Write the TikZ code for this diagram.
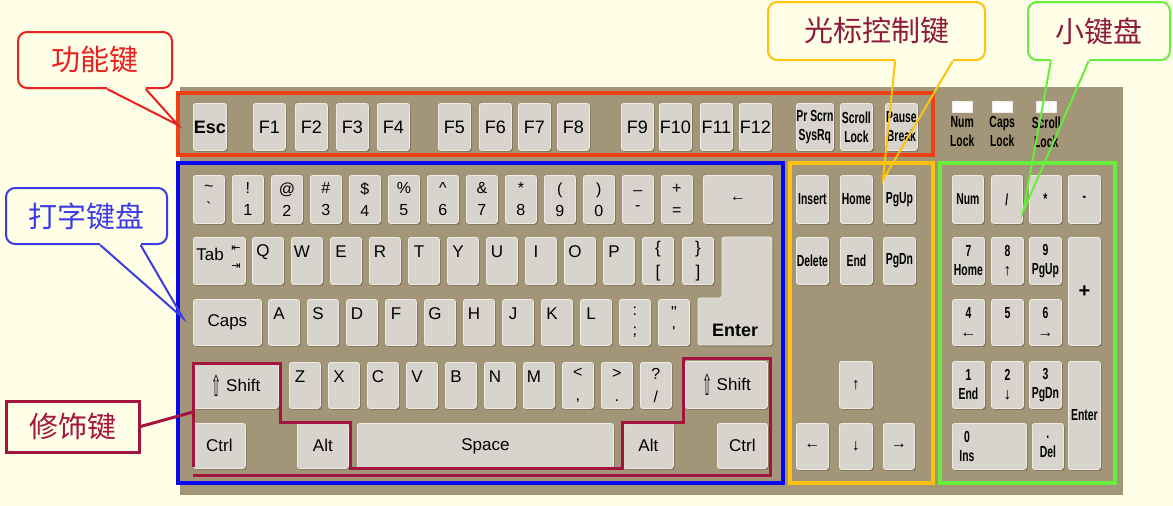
\documentclass[tikz,border=0pt]{standalone}
\usepackage{fontspec}
\usepackage{graphicx}
\setmainfont{Liberation Sans}
\newfontfamily\cjkfont{Noto Sans CJK SC}
\newfontfamily\condfont{Liberation Sans}[FakeStretch=0.65]
\newfontfamily\symfont{DejaVu Sans}
\usetikzlibrary{calc,positioning,shadows}

\definecolor{paper}{HTML}{FFFEE6}
\definecolor{board}{HTML}{A39578}
\definecolor{keyface}{HTML}{D7D3CD}
\definecolor{keyrim}{HTML}{EEEBE5}
\definecolor{keyshade}{HTML}{6E624C}
\definecolor{fnred}{HTML}{F0401A}
\definecolor{typblue}{HTML}{0808F0}
\definecolor{curgold}{HTML}{FFC20E}
\definecolor{padgreen}{HTML}{66EE3A}
\definecolor{modred}{HTML}{A3143E}
\definecolor{notered}{HTML}{E82020}
\definecolor{noteblue}{HTML}{3C3CE6}
\definecolor{notetext}{HTML}{8E1A3C}

\newcommand\fsz[2]{\fontsize{#1}{#2}\selectfont}
\newcommand\shiftarrow{\raisebox{-5pt}{\symfont\scalebox{0.7}[1.7]{⇧}}}
\newcommand\padarr[1]{{\rmfamily\mdseries #1}}
% callout tail: node, from, to, tip, colour
\newcommand\notetail[5]{%
  \fill[paper] ($(#1.south west)!#2!(#1.south east)+(0,-2)$) rectangle ($(#1.south west)!#3!(#1.south east)+(0,2)$);
  \draw[#5, line width=2pt] ($(#1.south west)!#2!(#1.south east)$) -- (#4) -- ($(#1.south west)!#3!(#1.south east)$);
}

\begin{document}
\begin{tikzpicture}[x=1pt, y=-1pt,
  keybase/.style={draw=keyrim, fill=keyface, line width=0.8pt, rounded corners=2.5pt,
    drop shadow={shadow xshift=1.3pt, shadow yshift=-1.3pt, fill=keyshade, opacity=0.85}},
  keycap/.style={keybase, anchor=north west, inner sep=0pt, align=center, font=\fsz{16}{22}},
  ks/.style 2 args={minimum width=#1pt, minimum height=#2pt},
  bigtxt/.style={font=\fsz{17}{17}},
  topleft/.style={label={[anchor=center, xshift=11pt, yshift=-15pt, font=\fsz{17}{17}]north west:#1}},
  cond/.style={font=\condfont\bfseries\fsz{16}{19}, align=center},
  note/.style={rounded corners=9pt, line width=2pt, fill=paper, inner sep=0pt, font=\cjkfont\fsz{29}{29}}
]
\fill[paper] (0,0) rectangle (1173,506);
\useasboundingbox (0,0) rectangle (1173,506);
\fill[board] (180,87) rectangle (1123,495);

% function row
\node[keycap, ks={33}{47}, font=\bfseries\fsz{18}{18}] (esc) at (193,103) {Esc};
\foreach \x [count=\n] in {253,295,336,377,438,479,518,557,621,659,700,739}
  \node[keycap, ks={32}{47}, font=\fsz{18}{18}] (f\n) at (\x,103) {F\n};
\node[keycap, ks={32}{47}, cond] (prscr) at (796,103) {Pr Scrn\\SysRq};
\node[keycap, ks={32}{47}, cond] (scroll) at (840,103) {Scroll\\Lock};
\node[keycap, ks={32}{47}, cond] (pause) at (885,103) {Pause\\Break};

% lock lights
\foreach \x/\led/\txt in {952/numled/Num, 992/capsled/Caps, 1036/scrled/Scroll}{
  \node[draw=keyrim, fill=white, ks={20}{11}, anchor=north west, inner sep=0pt] (\led) at (\x,101) {};
  \node[cond, inner sep=0pt, below=4pt of \led] (\led txt) {\txt\\Lock};
}

% number row
\foreach \up/\dn [count=\i from 0] in {\textasciitilde/\textasciigrave,!/1,@/2,\#/3,\$/4,\%/5,\textasciicircum/6,\&/7,*/8,{(}/9,{)}/0,\_/-,+/=}
  \node[keycap, ks={31}{48}] (n\i) at ({193+39*\i},175) {\up\\\dn};
\node[keycap, ks={69}{48}] (bksp) at (703,175) {←};

% qwerty row
\node[keycap, ks={52}{47}] (tab) at (193,237) {};
\node[bigtxt, inner sep=0pt] (tabtxt) at (210,254) {Tab};
\node[font=\symfont\fsz{11}{18}, align=center, inner sep=0pt] (tabarr) at (236,258) {⇤\\⇥};
\foreach \c [count=\i from 0] in {Q,W,E,R,T,Y,U,I,O,P}
  \node[keycap, ks={31}{47}, topleft=\c] (k\c) at ({252+39*\i},237) {};
\node[keycap, ks={31}{47}, font=\fsz{17}{24}] (lbrack) at (642,237) {\{\\{[}};
\node[keycap, ks={31}{47}, font=\fsz{17}{24}] (rbrack) at (682,237) {\}\\]};
\draw[keybase] (722,237) -- (772,237) -- (772,345) -- (698,345) -- (698,298) -- (722,298) -- cycle;
\node[font=\bfseries\fsz{18}{18}] (entertxt) at (735,330) {Enter};

% home row
\node[keycap, ks={68}{46}, bigtxt] (caps) at (193,299) {Caps};
\foreach \c [count=\i from 0] in {A,S,D,F,G,H,J,K,L}
  \node[keycap, ks={31}{46}, topleft=\c] (k\c) at ({268+39*\i},299) {};
\node[keycap, ks={31}{46}, font=\fsz{16}{20}] (semi) at (619,299) {:\\;};
\node[keycap, ks={31}{46}, font=\fsz{16}{20}] (quote) at (658,299) {\textquotedbl\\\textquotesingle};

% shift row
\node[keycap, ks={85}{46}, bigtxt] (lshift) at (193,362) {\shiftarrow\ Shift};
\foreach \c [count=\i from 0] in {Z,X,C,V,B,N,M}
  \node[keycap, ks={31}{46}, topleft=\c] (k\c) at ({289+39*\i},362) {};
\node[keycap, ks={31}{46}, font=\fsz{16}{23}] (comma) at (562,362) {<\\,};
\node[keycap, ks={31}{46}, font=\fsz{16}{23}] (period) at (601,362) {>\\.};
\node[keycap, ks={31}{46}, font=\fsz{16}{23}] (slash) at (640,362) {?\\/};
\node[keycap, ks={82}{47}, bigtxt] (rshift) at (685,361) {\shiftarrow\ Shift};

% bottom row
\node[keycap, ks={52}{45}, bigtxt] (lctrl) at (193,423) {Ctrl};
\node[keycap, ks={51}{45}, bigtxt] (lalt) at (297,423) {Alt};
\node[keycap, ks={256}{45}, bigtxt] (space) at (357,423) {Space};
\node[keycap, ks={50}{45}, bigtxt] (ralt) at (623,423) {Alt};
\node[keycap, ks={50}{45}, bigtxt] (rctrl) at (717,423) {Ctrl};

% cursor block
\foreach \x/\a/\b [count=\i] in {796/Insert/Delete, 840/Home/End, 883/PgUp/PgDn}{
  \node[keycap, ks={32}{48}, cond] (ed\i) at (\x,175) {\a};
  \node[keycap, ks={32}{47}, cond] (nav\i) at (\x,237) {\b};
}
\node[keycap, ks={33}{47}] (arru) at (839,361) {↑};
\node[keycap, ks={32}{46}] (arrl) at (796,423) {←};
\node[keycap, ks={33}{46}] (arrd) at (839,423) {↓};
\node[keycap, ks={31}{46}] (arrr) at (883,423) {→};

% numeric pad
\node[keycap, ks={31}{48}, cond] (pnum) at (952,175) {Num};
\node[keycap, ks={31}{48}, cond] (pdiv) at (991,175) {/};
\node[keycap, ks={32}{48}, cond] (pmul) at (1029,175) {*};
\node[keycap, ks={32}{48}, cond] (psub) at (1068,175) {-};
\foreach \x/\t [count=\i] in {952/{7\\Home},991/{8\\\padarr{↑}},1029/{9\\PgUp}}
  \node[keycap, ks={32}{47}, cond] (pa\i) at (\x,237) {\t};
\foreach \x/\t [count=\i] in {952/{4\\\padarr{←}},991/{5\\\mbox{}},1029/{6\\\padarr{→}}}
  \node[keycap, ks={32}{46}, cond] (pb\i) at (\x,299) {\t};
\foreach \x/\t [count=\i] in {952/{1\\End},991/{2\\\padarr{↓}},1029/{3\\PgDn}}
  \node[keycap, ks={32}{47}, cond] (pc\i) at (\x,361) {\t};
\node[keycap, ks={32}{108}, font=\bfseries\fsz{20}{20}] (padd) at (1068,237) {+};
\node[keycap, ks={32}{108}, cond] (pent) at (1068,361) {Enter};
\node[keycap, ks={74}{46}] (pins) at (952,423) {};
\node[cond, inner sep=0pt] (pinstxt) at (967,446) {0\\Ins};
\node[keycap, ks={31}{46}, cond] (pdel) at (1032,423) {.\\Del};

% group frames
\draw[fnred, line width=4pt] (178,93) rectangle (933,155);
\draw[typblue, line width=4pt] (178,163) rectangle (783,483);
\draw[curgold, line width=3.5pt] (790,163) rectangle (933,483);
\draw[padgreen, line width=4pt] (940,163) rectangle (1115,483);
\draw[modred, line width=3pt] (193,467) -- (193,363) -- (280,363) -- (280,422) -- (350,422)
  -- (350,468) -- (622,468) -- (622,422) -- (683,422) -- (683,358) -- (770,358) -- (770,475) -- (193,475);

% callouts
\node[note, draw=notered, text=notered, ks={154}{56}] (fnnote) at (95,60) {功能键};
\coordinate (fntip) at (178,125);
\notetail{fnnote}{0.578}{0.825}{fntip}{notered}
\node[note, draw=noteblue, text=noteblue, ks={161}{56}] (typnote) at (86.5,216) {打字键盘};
\coordinate (typtip) at (183,318);
\notetail{typnote}{0.584}{0.832}{typtip}{noteblue}
\node[note, draw=curgold, text=notetext, ks={217}{58}] (curnote) at (876.5,31) {光标控制键};
\coordinate (curtip) at (883,180);
\notetail{curnote}{0.585}{0.848}{curtip}{curgold}
\node[note, draw=padgreen, text=notetext, ks={142}{58}] (padnote) at (1099,31) {小键盘};
\coordinate (padtip) at (1023,212);
\notetail{padnote}{0.166}{0.428}{padtip}{padgreen}
\node[draw=modred, line width=3pt, fill=paper, text=modred, ks={133}{51}, inner sep=0pt,
  font=\cjkfont\fsz{29}{29}] (modnote) at (72.5,426.5) {修饰键};
\coordinate (modtip) at (193,412);
\draw[modred, line width=3pt] (modnote.east) -- (modtip);
\end{tikzpicture}
\end{document}
